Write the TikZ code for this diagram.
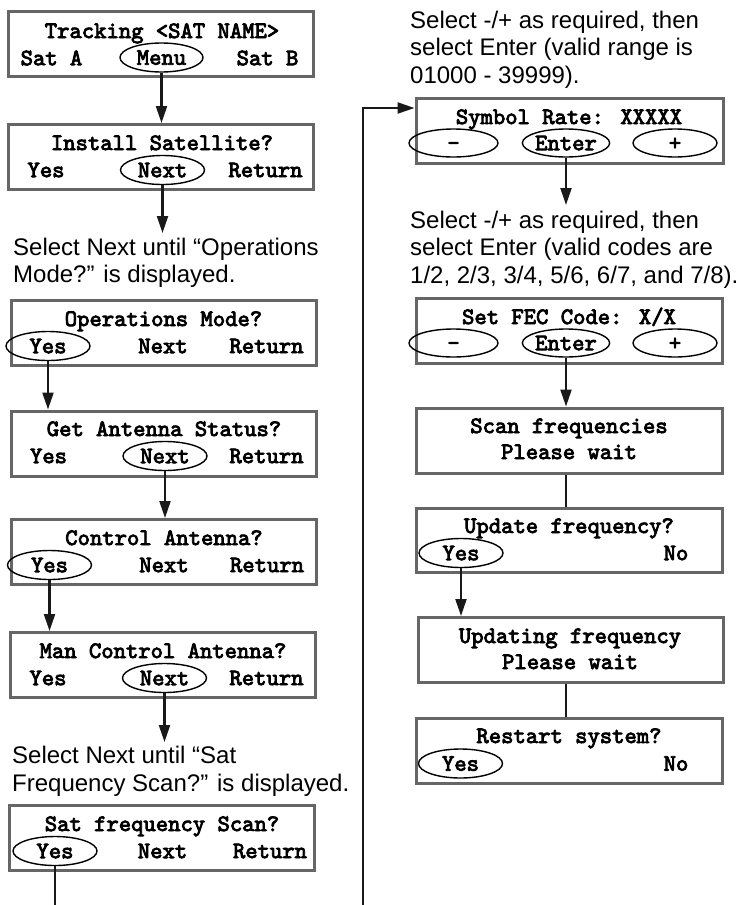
\documentclass[tikz,border=0pt]{standalone}
\usepackage{fontspec}
\usepackage{tikz}
\usetikzlibrary{arrows.meta,positioning,shapes.geometric}
\newfontfamily\notefont{Liberation Sans}
\newfontfamily\lcdfont[Extension=.otf,FakeBold=3.5]{lmmono10-regular}
\newcommand\lcd{\lcdfont\fontsize{23.5}{26}\selectfont}
\newcommand\notetext{\notefont\fontsize{24}{27.5}\selectfont}

\begin{document}
\begin{tikzpicture}[x=1pt,y=-1pt,>={Triangle[length=17pt,width=11pt]},
  screen/.style={draw=black!60,line width=3pt,minimum width=305pt,minimum height=65pt,inner sep=0pt},
  key/.style={ellipse,draw=black,line width=1.4pt,minimum width=84pt,minimum height=29pt,inner sep=0pt,
    text height=14.4pt,text depth=0pt,font=\lcd},
  lbl/.style={inner sep=0pt,font=\lcd},
  row/.style={inner sep=0pt,font=\lcd,anchor=base},
  note/.style={inner sep=0pt,font=\notetext,align=left,anchor=base west},
  flow/.style={line width=2.2pt,draw=black!90}]
\useasboundingbox (0,0) rectangle (750,905);
% left column
\node[screen] (track) at (160.5,44) {};
\node[row] at (162,38) {Tracking <SAT NAME>};
\node[lbl] at (51.5,58) {Sat A}; \node[key,minimum width=83pt] (menu) at (161.5,57.5) {Menu}; \node[lbl] at (267.5,58) {Sat B};
\node[screen] (install) at (160.5,157) {};
\node[row] at (162,150) {Install Satellite?};
\node[lbl] at (46,170) {Yes}; \node[key] (next2) at (162.5,170) {Next}; \node[lbl] at (265.5,170) {Return};
% note anchors sit on the last line
\node[note] (hint1) at (13,282.5) {Select Next until “Operations\\Mode?” is displayed.};
\node[screen] (opsmode) at (163.5,332.5) {};
\node[row] at (163.5,326) {Operations Mode?};
\node[key] (yes3) at (48,346) {Yes}; \node[lbl] at (163,346) {Next}; \node[lbl] at (266.5,346) {Return};
\node[screen] (antstat) at (164,443.5) {};
\node[row] at (164,436) {Get Antenna Status?};
\node[lbl] at (48.5,456) {Yes}; \node[key] (next4) at (165,456) {Next}; \node[lbl] at (266.5,456) {Return};
\node[screen] (ctrlant) at (164,552) {};
\node[row] at (164,545) {Control Antenna?};
\node[key] (yes5) at (49.5,565) {Yes}; \node[lbl] at (164,565) {Next}; \node[lbl] at (267,565) {Return};
\node[screen] (manctrl) at (163,665) {};
\node[row] at (163,658) {Man Control Antenna?};
\node[lbl] at (48,678) {Yes}; \node[key] (next6) at (164.5,678) {Next}; \node[lbl] at (266.5,678) {Return};
\node[note] (hint2) at (12,791) {Select Next until “Sat\\Frequency Scan?” is displayed.};
\node[screen] (satscan) at (162,837.5) {};
\node[row] at (162,831) {Sat frequency Scan?};
\node[key] (yes7) at (55,851) {Yes}; \node[lbl] at (162.5,851) {Next}; \node[lbl] at (270,851) {Return};
% right column
\node[note] (hint3) at (410,83) {Select -/+ as required, then\\select Enter (valid range is\\01000 - 39999).};
\node[screen,minimum width=307pt] (symrate) at (569.5,130.5) {};
\node[row] at (569,124) {Symbol Rate: XXXXX};
\node[key,minimum width=89pt,minimum height=28pt] (minus8) at (453.5,143) {-};
\node[key,minimum width=76pt,minimum height=28pt] (enter8) at (566,143) {Enter};
\node[key,minimum height=28pt] (plus8) at (675,143) {+};
\node[note] (hint4) at (410,283) {Select -/+ as required, then\\select Enter (valid codes are\\1/2, 2/3, 3/4, 5/6, 6/7, and 7/8).};
\node[screen,minimum width=306pt] (fec) at (569,330.5) {};
\node[row] at (569,324) {Set FEC Code: X/X};
\node[key,minimum width=89pt,minimum height=28pt] (minus9) at (453.5,343) {-};
\node[key,minimum width=76pt,minimum height=28pt] (enter9) at (566,343) {Enter};
\node[key,minimum height=28pt] (plus9) at (675,343) {+};
\node[screen,minimum width=306pt] (scan) at (569,440.5) {};
\node[row] at (569,433) {Scan frequencies}; \node[row] at (569,459) {Please wait};
\node[screen,minimum width=306pt,minimum height=64pt] (update) at (569,540) {};
\node[row] at (569,533) {Update frequency?};
\node[key] (yes11) at (461,553) {Yes}; \node[lbl] at (676,553) {No};
\node[screen] (updating) at (570.5,650) {};
\node[row] at (570,643) {Updating frequency}; \node[row] at (570,669) {Please wait};
\node[screen,minimum width=306pt] (restart) at (569,750.5) {};
\node[row] at (569,743) {Restart system?};
\node[key] (yes13) at (460.5,763.5) {Yes}; \node[lbl] at (676,763.5) {No};
% connectors
\coordinate (n1) at (162.5,233); \coordinate (n2) at (164.5,742); \coordinate (n3) at (566,205);
\coordinate (outL) at (55,905); \coordinate (inR) at (363,905); \coordinate (turn) at (363,108);
\draw[flow,->] (menu.south) -- (menu.south |- install.north);
\draw[flow,->] (next2.south) -- (n1);
\draw[flow,->] (yes3.south) -- (yes3.south |- antstat.north);
\draw[flow,->] (next4.south) -- (next4.south |- ctrlant.north);
\draw[flow,->] (yes5.south) -- (yes5.south |- manctrl.north);
\draw[flow,->] (next6.south) -- (n2);
\draw[flow] (yes7.south) -- (outL);
\draw[flow,->] (inR) -- (turn) -- (turn -| symrate.west);
\draw[flow,->] (enter8.south) -- (n3);
\draw[flow,->] (enter9.south) -- (enter9.south |- scan.north);
\draw[flow] (scan.south -| enter9) -- (enter9 |- update.north);
\draw[flow,->] (yes11.south) -- (yes11.south |- updating.north);
\draw[flow] (updating.south -| enter9) -- (enter9 |- restart.north);
\end{tikzpicture}
\end{document}
